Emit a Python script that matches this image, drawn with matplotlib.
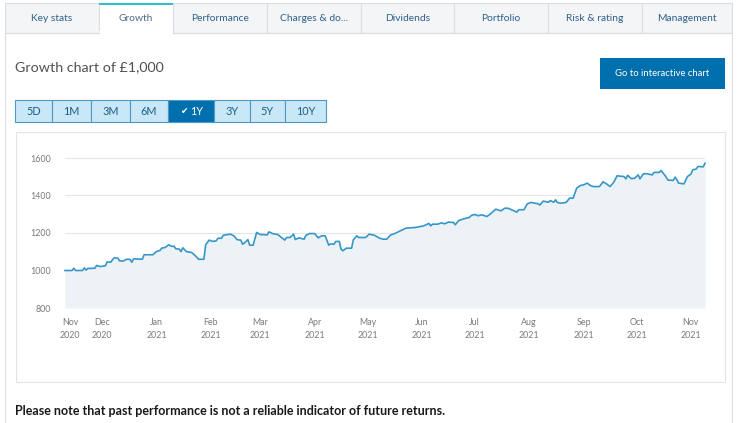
import datetime as dt

import matplotlib

matplotlib.use("Agg")
import matplotlib.pyplot as plt
from matplotlib.patches import Rectangle

# ---- data --------------------------------------------------------------
START = "2020-11-10"
DAYS = [0, 4, 5, 6, 10, 11, 12, 13, 17, 18, 20, 23, 24, 26, 27, 28, 30, 31, 33,
        35, 37, 38, 39, 44, 45, 50, 52, 54, 55, 57, 59, 61, 62, 63, 65, 66, 67,
        69, 72, 74, 76, 79, 80, 82, 84, 86, 87, 89, 90, 94, 96, 98, 100, 101,
        102, 104, 105, 107, 109, 111, 115, 116, 118, 121, 125, 126, 128, 130,
        131, 133, 136, 137, 139, 142, 144, 146, 148, 150, 151, 153, 154, 156,
        157, 158, 160, 163, 164, 166, 167, 171, 173, 176, 179, 181, 183, 185,
        188, 191, 194, 199, 204, 207, 208, 209, 212, 214, 216, 218, 221, 222,
        224, 227, 230, 231, 233, 235, 237, 240, 242, 245, 248, 250, 252, 254,
        257, 258, 261, 263, 265, 269, 270, 272, 275, 276, 278, 279, 280, 282,
        285, 287, 289, 291, 293, 295, 297, 299, 301, 304, 306, 308, 310, 312,
        314, 318, 319, 320, 322, 324, 326, 327, 329, 331, 334, 335, 338, 339,
        341, 343, 346, 347, 348, 349, 352, 354, 356, 357, 359, 360, 363, 364]
VALUES = [1000, 1000, 1012, 1000, 1000, 1014, 1002, 1011, 1012, 1027, 1021, 1025,
          1046, 1044, 1057, 1068, 1066, 1052, 1050, 1060, 1059, 1044, 1062, 1060,
          1084, 1084, 1101, 1107, 1119, 1123, 1137, 1128, 1130, 1116, 1114, 1101,
          1121, 1101, 1096, 1080, 1060, 1060, 1137, 1162, 1155, 1158, 1172, 1172,
          1188, 1194, 1185, 1164, 1162, 1140, 1146, 1165, 1135, 1135, 1203, 1192,
          1190, 1206, 1197, 1192, 1162, 1176, 1176, 1194, 1165, 1174, 1167, 1187,
          1197, 1197, 1174, 1185, 1185, 1135, 1142, 1140, 1155, 1155, 1114, 1105,
          1119, 1119, 1164, 1185, 1176, 1176, 1194, 1188, 1172, 1167, 1167, 1188,
          1199, 1213, 1226, 1229, 1238, 1251, 1238, 1247, 1247, 1254, 1249, 1258,
          1256, 1244, 1267, 1276, 1283, 1293, 1299, 1292, 1297, 1288, 1302, 1327,
          1318, 1332, 1332, 1324, 1311, 1324, 1324, 1356, 1363, 1356, 1349, 1370,
          1364, 1373, 1364, 1377, 1363, 1359, 1363, 1386, 1386, 1439, 1453, 1457,
          1466, 1452, 1447, 1448, 1473, 1462, 1448, 1469, 1505, 1501, 1489, 1508,
          1490, 1492, 1510, 1489, 1516, 1516, 1510, 1523, 1523, 1533, 1510, 1482,
          1481, 1498, 1484, 1466, 1462, 1501, 1514, 1537, 1541, 1555, 1553, 1572]

Y_TICKS = [800, 1000, 1200, 1400, 1600]
MONTH_TICKS = ["2020-11-13", "2020-12-01", "2021-01-01", "2021-02-01",
               "2021-03-01", "2021-04-01", "2021-05-01", "2021-06-01",
               "2021-07-01", "2021-08-01", "2021-09-01", "2021-10-01",
               "2021-11-01"]
MONTH_LABELS = ["Nov\n2020", "Dec\n2020", "Jan\n2021", "Feb\n2021", "Mar\n2021",
                "Apr\n2021", "May\n2021", "Jun\n2021", "Jul\n2021", "Aug\n2021",
                "Sep\n2021", "Oct\n2021", "Nov\n2021"]

TABS = ["Key stats", "Growth", "Performance", "Charges & do...", "Dividends",
        "Portfolio", "Risk & rating", "Management"]
TAB_EDGES = [5, 98.5, 173, 267, 361, 454, 548, 642, 732]
ACTIVE_TAB = 1

PERIODS = ["5D", "1M", "3M", "6M", "1Y", "3Y", "5Y", "10Y"]
PERIOD_EDGES = [15, 51.7, 91, 129.7, 168, 214.3, 249.7, 285, 326]
ACTIVE_PERIOD = 4

W, H = 740, 423
FONT = ["Lato", "DejaVu Sans"]
BLUE = "#006fad"
LINE = "#3597c9"
FILL = "#edf2f7"
BORDER = "#dcdde2"

plt.rcParams["font.family"] = FONT

fig = plt.figure(figsize=(W / 100, H / 100), dpi=100)
fig.patch.set_facecolor("white")

# page layer, pixel coordinates, y down
bg = fig.add_axes([0, 0, 1, 1])
bg.set_xlim(0, W)
bg.set_ylim(H, 0)
bg.axis("off")

# tab strip
for i, label in enumerate(TABS):
    x0, x1 = TAB_EDGES[i], TAB_EDGES[i + 1]
    active = i == ACTIVE_TAB
    bg.add_patch(Rectangle((x0, 3), x1 - x0, 30,
                           facecolor="white" if active else "#f4f5f7",
                           edgecolor=BORDER, lw=0.8))
    if active:
        bg.add_patch(Rectangle((x0, 3), x1 - x0, 2.5, facecolor="#27c4c8",
                               edgecolor="none"))
    bg.text((x0 + x1) / 2, 18.5, label, ha="center", va="center", fontsize=7.4,
            color="#4d6a86" if active else "#2f5f8c")

# content panel outline (open under the active tab)
bg.plot([5, 5], [33, H], color=BORDER, lw=0.8)
bg.plot([732, 732], [33, H], color=BORDER, lw=0.8)
bg.plot([5, TAB_EDGES[ACTIVE_TAB]], [33, 33], color=BORDER, lw=0.8)
bg.plot([TAB_EDGES[ACTIVE_TAB + 1], 732], [33, 33], color=BORDER, lw=0.8)
bg.add_patch(Rectangle((TAB_EDGES[ACTIVE_TAB] + 0.5, 31.5),
                       TAB_EDGES[ACTIVE_TAB + 1] - TAB_EDGES[ACTIVE_TAB] - 1, 3,
                       facecolor="white", edgecolor="none"))

bg.text(15, 67, "Growth chart of \u00a31,000", ha="left", va="center",
        fontsize=10.3, color="#505050")

bg.add_patch(Rectangle((599.5, 58.5), 125, 31, facecolor=BLUE, edgecolor="none"))
bg.text(662, 74, "Go to interactive chart", ha="center", va="center",
        fontsize=6.8, color="white")

# period selector
for i, label in enumerate(PERIODS):
    x0, x1 = PERIOD_EDGES[i], PERIOD_EDGES[i + 1]
    active = i == ACTIVE_PERIOD
    bg.add_patch(Rectangle((x0, 100), x1 - x0, 22.3,
                           facecolor=BLUE if active else "#c8e8f7",
                           edgecolor="#4f97c4", lw=0.8))
    cx = (x0 + x1) / 2
    if active:
        bg.text(cx - 3, 111.5, "\u2714", ha="right", va="center", fontsize=6.5,
                color="white", family=["DejaVu Sans"])
        bg.text(cx - 1, 111.5, label, ha="left", va="center", fontsize=7.8,
                color="white")
    else:
        bg.text(cx, 111.5, label, ha="center", va="center", fontsize=7.8,
                color="#1f5d87")

# chart card
bg.add_patch(Rectangle((15.5, 132.5), 709, 250, facecolor="white",
                       edgecolor="#e4e4e4", lw=0.8))

bg.text(15, 411, "Please note that past performance is not a reliable indicator "
        "of future returns.", ha="left", va="center", fontsize=9,
        fontweight="bold", color="#1a1a1a")

# ---- the growth chart ----------------------------------------------------
start = dt.date.fromisoformat(START)
dates = [start + dt.timedelta(days=d) for d in DAYS]

ax = fig.add_axes([65 / W, (H - 308) / H, 640 / W, 150 / H])
ax.set_facecolor("none")
ax.fill_between(dates, VALUES, Y_TICKS[0], color=FILL, lw=0)
ax.plot(dates, VALUES, color=LINE, lw=1.2, clip_on=False, solid_joinstyle="round")
ax.set_xlim(dates[0], dates[-1])
ax.set_ylim(Y_TICKS[0], Y_TICKS[-1])
ax.set_yticks(Y_TICKS)
ax.set_yticklabels([str(v) for v in Y_TICKS])
ax.set_xticks([dt.date.fromisoformat(d) for d in MONTH_TICKS])
ax.set_xticklabels(MONTH_LABELS, linespacing=1.6)
ax.grid(axis="y", color="#e3e5e8", lw=0.8)
ax.set_axisbelow(True)
ax.tick_params(length=0, labelsize=6.4, labelcolor="#7a7a7a")
ax.tick_params(axis="y", pad=10)
ax.tick_params(axis="x", pad=7)
for s in ax.spines.values():
    s.set_visible(False)

fig.savefig("out.png", dpi=100)
